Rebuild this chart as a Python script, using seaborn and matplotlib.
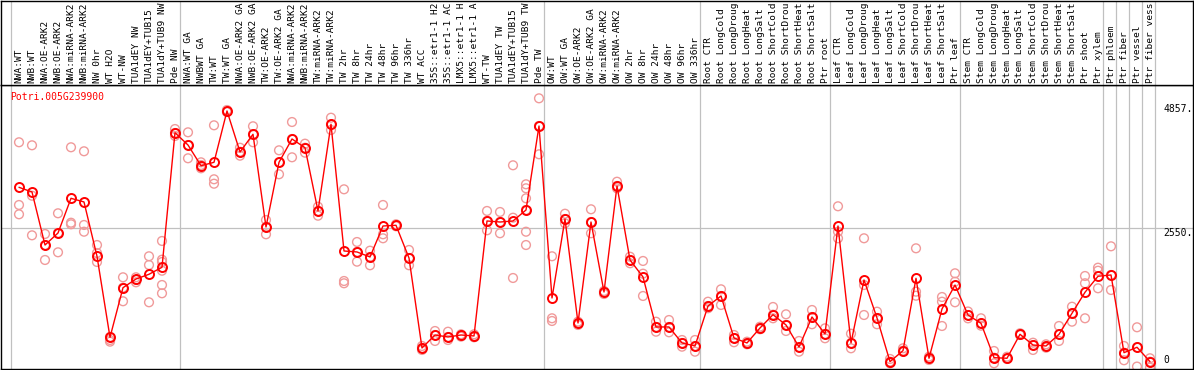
import numpy as np
import pandas as pd
import seaborn as sns
import matplotlib.pyplot as plt

sns.set_style("white")
plt.rcParams['font.family'] = ['DejaVu Sans Mono']

gene_id = "Potri.005G239900"

# sample names as they show in the chart header (long ones are cut there)
samples = [
    "NWA:WT", "NWB:WT", "NWA:OE-ARK2", "NWB:OE-ARK2", "NWA:miRNA-ARK2", "NWB:miRNA-ARK2",
    "NW 0hr", "WT H2O", "WT-NW", "TUA1dEY NW", "TUA1dEY+TUB15", "TUA1dY+TUB9 NW", "Pde NW",
    "NWA:WT GA", "NWBWT GA", "TW:WT", "TW:WT GA", "NWA:OE-ARK2 GA", "NWB:OE-ARK2 GA",
    "TW:OE-ARK2", "TW:OE-ARK2 GA", "NWA:miRNA-ARK2", "NWB:miRNA-ARK2", "TW:miRNA-ARK2",
    "TW:miRNA-ARK2", "TW 2hr", "TW 8hr", "TW 24hr", "TW 48hr", "TW 96hr", "TW 336hr",
    "WT ACC", "35S::etr1-1 H2", "35S::etr1-1 AC", "LMX5::etr1-1 H", "LMX5::etr1-1 A",
    "WT-TW", "TUA1dEY TW", "TUA1dEY+TUB15", "TUA1dY+TUB9 TW", "Pde TW",
    "OW:WT", "OW:WT GA", "OW:OE-ARK2", "OW:OE-ARK2 GA", "OW:miRNA-ARK2", "OW:miRNA-ARK2",
    "OW 2hr", "OW 8hr", "OW 24hr", "OW 48hr", "OW 96hr", "OW 336hr",
    "Root CTR", "Root LongCold", "Root LongDroug", "Root LongHeat", "Root LongSalt",
    "Root ShortCold", "Root ShortDrou", "Root ShortHeat", "Root ShortSalt", "Ptr root",
    "Leaf CTR", "Leaf LongCold", "Leaf LongDroug", "Leaf LongHeat", "Leaf LongSalt",
    "Leaf ShortCold", "Leaf ShortDrou", "Leaf ShortHeat", "Leaf ShortSalt", "Ptr leaf",
    "Stem CTR", "Stem LongCold", "Stem LongDroug", "Stem LongHeat", "Stem LongSalt",
    "Stem ShortCold", "Stem ShortDrou", "Stem ShortHeat", "Stem ShortSalt", "Ptr shoot",
    "Ptr xylem", "Ptr phloem", "Ptr fiber", "Ptr vessel", "Ptr fiber vess",
]
group_sizes = [13, 28, 12, 10, 10, 11, 1, 1, 1, 1]

mean_expr = [
    3307, 3220, 2236, 2459, 3103, 3035, 2027, 523, 1444, 1605, 1693, 1823, 4321,
    4092, 3708, 3771, 4724, 3963, 4291, 2571, 3771, 4204, 4042, 2868, 4477, 2125,
    2107, 2014, 2589, 2602, 1995, 325, 566, 529, 566, 548, 2682, 2663, 2682, 2886, 4445,
    1253, 2719, 789, 2663, 1364, 3332, 1958, 1643, 715, 715, 418, 362,
    1104, 1290, 510, 418, 696, 943, 752, 343, 900, 585,
    2589, 418, 1587, 882, 71, 275, 1618, 134, 1049, 1494,
    937, 783, 145, 134, 579, 380, 362, 579, 969, 1359, 1656,
    1680, 238, 338, 71,
]

replicates = [
    [4143, 2979, 2806], [4087, 3151, 2416], [2441, 2236, 1958], [2825, 2101, 2459],
    [4050, 2650, 2621], [3976, 2608, 2483], [2236, 2088, 1921], [529, 473, 442],
    [1637, 1192, 1444], [1637, 1544, 1587], [2027, 1865, 1173],
    [2311, 1964, 1921, 1759, 1494, 1340], [4389, 4315, 4260],
    [4328, 3846, 4092], [3771, 3660, 3721], [4458, 3456, 3374], [4742, 4711, 4705],
    [4042, 3894, 3968], [4440, 4143, 4291], [2700, 2435, 2571], [3994, 3549, 3771],
    [4519, 3864, 4204], [4117, 3950, 4042], [2947, 2780, 2868], [4599, 4371, 4477],
    [3270, 1568, 1526], [2292, 1927, 2107], [2131, 1860, 2014], [2979, 2435, 2361],
    [2621, 2584, 2602], [2144, 1860, 1995], [362, 288, 325], [640, 455, 566],
    [627, 473, 529], [579, 535, 566], [579, 523, 548], [2868, 2509, 2682],
    [2849, 2454, 2663], [3716, 2743, 1624], [3363, 3289, 3103, 2483, 2236, 2886],
    [4959, 3920, 4445],
    [2027, 876, 826], [2817, 2639, 2719], [813, 752, 789], [2899, 2454, 2663],
    [1383, 1327, 1364], [3411, 3332, 3289], [2019, 1897, 1958], [1940, 1704, 1290],
    [813, 627, 715], [844, 616, 715], [473, 349, 418], [473, 256, 362],
    [1184, 1062, 1104], [1414, 1123, 1290], [566, 431, 510], [442, 393, 418],
    [720, 672, 696], [1086, 876, 943], [950, 640, 752], [455, 256, 343],
    [1030, 765, 900], [690, 505, 585],
    [2955, 2483, 2361], [590, 319, 418], [2361, 1494, 937], [999, 765, 882],
    [121, 41, 71], [319, 256, 275], [2175, 1370, 1295], [163, 102, 134],
    [1271, 1184, 733], [1711, 1555, 1173],
    [1002, 875, 937], [876, 739, 783], [269, 41, 145], [163, 121, 134],
    [598, 566, 579], [423, 288, 380], [393, 330, 362], [733, 455, 579],
    [1091, 813, 969], [1661, 1526, 876], [1815, 1759, 1433],
    [2212, 1401, 1680], [362, 97, 238], [709, -20, 338], [134, -40, 71],
]

ytick_values = [4857, 2550, 0]
ytick_labels = ["4857.", "2550.", "0"]

# long-form tables for seaborn
pos = np.arange(len(samples))
mean_df = pd.DataFrame({"pos": pos, "value": mean_expr})
rep_df = pd.DataFrame(
    [(i, v) for i, reps in enumerate(replicates) for v in reps],
    columns=["pos", "value"],
)

W, H = 1194, 370
fig = plt.figure(figsize=(W / 100, H / 100), dpi=100)
fig.patch.set_facecolor("white")

# pixel geometry: sample i sits at x = 19 + 13*i px
def px2x(px):
    return (px - 19) / 13.0

left_px, right_px = 0.6, 1193.0
ax = fig.add_axes([left_px / W, 1.5 / H, (right_px - left_px) / W, 283.5 / H])
ax_top = fig.add_axes([left_px / W, (H - 85) / H, (right_px - left_px) / W, 84.5 / H])

for a in (ax, ax_top):
    a.set_xlim(px2x(left_px), px2x(right_px))
    a.set_xticks([])
    a.set_yticks([])
    a.set_facecolor("white")
    for s in a.spines.values():
        s.set_color("black")
        s.set_linewidth(1.0)
ax_top.set_ylim(0, 1)
ax.set_ylim(-56, 5206)

# group separators
bounds = np.concatenate([[0], np.cumsum(group_sizes)]) - 0.6
for b in bounds:
    ax.axvline(b, color="#c0c0c0", lw=0.9, zorder=0)
    ax_top.axvline(b, color="#c0c0c0", lw=0.9, zorder=0)
ax.axhline(2550, color="#c0c0c0", lw=0.9, zorder=0)

# replicate points
sns.scatterplot(data=rep_df, x="pos", y="value", ax=ax, marker="o",
                facecolor="none", edgecolor="#f09a9a", linewidth=1.0, s=40,
                zorder=2, legend=False)

# mean line
sns.lineplot(data=mean_df, x="pos", y="value", ax=ax, color="red", lw=1.0,
             marker="o", markersize=6.5, markerfacecolor="none",
             markeredgecolor="red", markeredgewidth=1.4, zorder=3)
ax.set_xlabel("")
ax.set_ylabel("")
ax.set_xticks([])
ax.set_yticks([])

# value labels on the right
for v, lab in zip(ytick_values, ytick_labels):
    ax.text(px2x(1163), v, lab, fontsize=7, color="black",
            va="bottom" if v == 0 else "top", ha="left")

ax.text(10 / (right_px - left_px), 1 - 12 / 283.5, gene_id, transform=ax.transAxes,
        fontsize=7, color="red", va="center", ha="left")

# sample labels
for i, lab in enumerate(samples):
    ax_top.text(i, 2 / 85, lab, rotation=90, fontsize=6.8, color="black",
                ha="center", va="bottom", clip_on=True)

fig.savefig("out.png", dpi=100, facecolor="white")
